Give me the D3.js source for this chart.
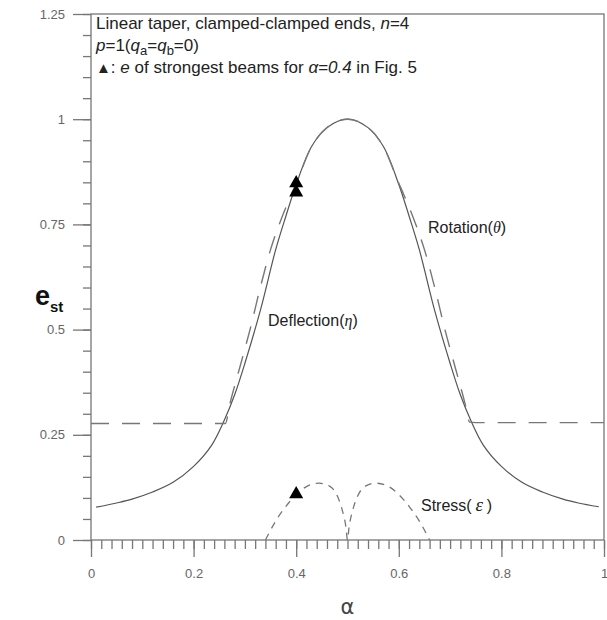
<!DOCTYPE html>
<html>
<head>
<meta charset="utf-8">
<script src="https://cdn.jsdelivr.net/npm/d3@7"></script>
<style>
  body { margin: 0; background: #fff; }
  text { font-family: "Liberation Sans", Arial, sans-serif; }
</style>
</head>
<body>
<svg id="chart" width="607" height="620"></svg>
<script>
// values
const deflAlpha = [0.01, 0.05, 0.08, 0.12, 0.16, 0.2, 0.235, 0.26, 0.28, 0.3, 0.33, 0.36, 0.38, 0.4, 0.43, 0.46, 0.5,
                   0.54, 0.57, 0.6, 0.62, 0.64, 0.67, 0.7, 0.72, 0.74, 0.765, 0.8, 0.84, 0.88, 0.92, 0.95, 0.99];
const deflection = [0.078, 0.088, 0.097, 0.114, 0.137, 0.175, 0.225, 0.285, 0.345, 0.42, 0.545, 0.69, 0.77, 0.845, 0.935, 0.98, 1.0,
                    0.98, 0.935, 0.845, 0.77, 0.69, 0.545, 0.42, 0.345, 0.285, 0.225, 0.175, 0.137, 0.114, 0.097, 0.088, 0.079];

const rotAlpha = [0, 0.262, 0.27, 0.29, 0.31, 0.33, 0.35, 0.37, 0.39, 0.4, 0.43, 0.46, 0.5,
                  0.54, 0.57, 0.6, 0.61, 0.63, 0.65, 0.67, 0.69, 0.71, 0.73, 0.738, 0.75, 1.0];
const rotation = [0.277, 0.277, 0.32, 0.41, 0.5, 0.6, 0.69, 0.76, 0.82, 0.848, 0.935, 0.98, 1.0,
                  0.98, 0.935, 0.848, 0.82, 0.76, 0.69, 0.6, 0.5, 0.41, 0.32, 0.28, 0.279, 0.279];

const stressAlpha = [0.34, 0.36, 0.38, 0.4, 0.42, 0.445, 0.465, 0.48, 0.49, 0.497, 0.5,
                     0.503, 0.51, 0.52, 0.535, 0.555, 0.58, 0.6, 0.62, 0.64, 0.66];
const stress = [0, 0.045, 0.08, 0.108, 0.127, 0.135, 0.128, 0.105, 0.07, 0.03, 0,
                0.03, 0.07, 0.105, 0.128, 0.135, 0.127, 0.108, 0.08, 0.045, 0];

const markerAlpha = [0.4, 0.4, 0.4];
const markerValue = [0.848, 0.826, 0.109];

const xTicks = [0, 0.2, 0.4, 0.6, 0.8, 1];
const xTickLabels = ["0", "0.2", "0.4", "0.6", "0.8", "1"];
const yTicks = [0, 0.25, 0.5, 0.75, 1, 1.25];
const yTickLabels = ["0", "0.25", "0.5", "0.75", "1", "1.25"];

const svg = d3.select("#chart");
const x = d3.scaleLinear().domain([0, 1]).range([91, 604]);
const y = d3.scaleLinear().domain([0, 1.25]).range([540, 14]);
const axisColor = "#777";

// minor ticks
svg.append("g")
    .attr("transform", `translate(${x(0)},0)`)
    .call(d3.axisLeft(y).tickValues(d3.range(0, 1.2501, 0.05)).tickSize(8).tickFormat(""))
    .call(g => g.select(".domain").remove());
svg.append("g")
    .attr("transform", `translate(0,${y(0)})`)
    .call(d3.axisBottom(x).tickValues(d3.range(0, 1.0001, 0.02)).tickSize(9).tickFormat(""))
    .call(g => g.select(".domain").remove());

// major ticks
svg.append("g")
    .attr("transform", `translate(${x(0)},0)`)
    .call(d3.axisLeft(y).tickValues(yTicks).tickSize(18).tickPadding(8)
        .tickFormat((d, i) => yTickLabels[i]))
    .call(g => g.select(".domain").remove());
svg.append("g")
    .attr("transform", `translate(0,${y(0)})`)
    .call(d3.axisBottom(x).tickValues(xTicks).tickSize(17).tickPadding(12)
        .tickFormat((d, i) => xTickLabels[i]))
    .call(g => g.select(".domain").remove());

svg.selectAll(".tick line").attr("stroke", axisColor).attr("stroke-width", 1.3);
svg.selectAll(".tick text").attr("fill", "#666").style("font-size", "13px")
    .style("font-family", "'Liberation Sans', Arial, sans-serif");

// frame
svg.append("rect")
    .attr("x", x(0)).attr("y", y(1.25))
    .attr("width", x(1) - x(0)).attr("height", y(0) - y(1.25))
    .attr("fill", "none").attr("stroke", axisColor).attr("stroke-width", 1.3);

// curves
function drawLine(xs, ys, dash, color, w, curve) {
    const line = d3.line()
        .x(d => x(d[0])).y(d => y(d[1]))
        .curve(curve);
    svg.append("path")
        .datum(xs.map((a, i) => [a, ys[i]]))
        .attr("d", line)
        .attr("fill", "none")
        .attr("stroke", color)
        .attr("stroke-width", w)
        .attr("stroke-dasharray", dash);
}
drawLine(deflAlpha, deflection, null, "#555", 1.2, d3.curveCatmullRom.alpha(0.5));
drawLine(rotAlpha, rotation, "18,13", "#777", 1.4, d3.curveMonotoneX);
drawLine(stressAlpha, stress, "7,6", "#777", 1.3, d3.curveMonotoneX);

// triangles
svg.selectAll(".mark")
    .data(markerAlpha.map((a, i) => [a, markerValue[i]]))
    .enter().append("path")
    .attr("class", "mark")
    .attr("transform", d => `translate(${x(d[0])},${y(d[1])})`)
    .attr("d", d3.symbol().type(d3.symbolTriangle).size(85))
    .attr("fill", "#000");

// annotation
const note = svg.append("g").attr("fill", "#222").style("font-size", "17px");
let t = note.append("text").attr("x", 96).attr("y", 29);
t.append("tspan").text("Linear taper, clamped-clamped ends, ");
t.append("tspan").attr("font-style", "italic").text("n");
t.append("tspan").text("=4");

t = note.append("text").attr("x", 96).attr("y", 51);
t.append("tspan").attr("font-style", "italic").text("p");
t.append("tspan").text("=1(");
t.append("tspan").attr("font-style", "italic").text("q");
t.append("tspan").attr("dy", 4).style("font-size", "13px").text("a");
t.append("tspan").attr("dy", -4).text("=");
t.append("tspan").attr("font-style", "italic").text("q");
t.append("tspan").attr("dy", 4).style("font-size", "13px").text("b");
t.append("tspan").attr("dy", -4).text("=0)");

t = note.append("text").attr("x", 96).attr("y", 73);
t.append("tspan").style("font-size", "15px").text("\u25B2");
t.append("tspan").text(":  ");
t.append("tspan").attr("font-style", "italic").text("e");
t.append("tspan").text(" of strongest beams for ");
t.append("tspan").attr("font-style", "italic").text("\u03B1=0.4");
t.append("tspan").text(" in Fig. 5");

// curve labels
const lab = svg.append("g").attr("fill", "#222").style("font-size", "16px");
t = lab.append("text").attr("x", 268).attr("y", 326);
t.append("tspan").text("Deflection(");
t.append("tspan").attr("font-style", "italic").style("font-family", "'Liberation Serif', serif").text("\u03B7");
t.append("tspan").text(")");

t = lab.append("text").attr("x", 428).attr("y", 233);
t.append("tspan").text("Rotation(");
t.append("tspan").attr("font-style", "italic").style("font-family", "'Liberation Serif', serif").text("\u03B8");
t.append("tspan").text(")");

t = lab.append("text").attr("x", 421).attr("y", 511);
t.append("tspan").text("Stress(");
t.append("tspan").attr("font-style", "italic").style("font-family", "'Liberation Serif', serif")
    .style("font-size", "19px").text("\u2009\u03B5\u2009");
t.append("tspan").text(")");

// axis titles
t = svg.append("text").attr("x", 35).attr("y", 305).attr("fill", "#111")
    .attr("font-weight", "bold").style("font-size", "27px");
t.append("tspan").text("e");
t.append("tspan").attr("dy", 7).style("font-size", "15px").text("st");

svg.append("text").attr("x", x(0.5)).attr("y", 614).attr("text-anchor", "middle")
    .attr("fill", "#444").style("font-size", "21px")
    .style("font-family", "'DejaVu Sans', sans-serif").text("\u03B1");
</script>
</body>
</html>
